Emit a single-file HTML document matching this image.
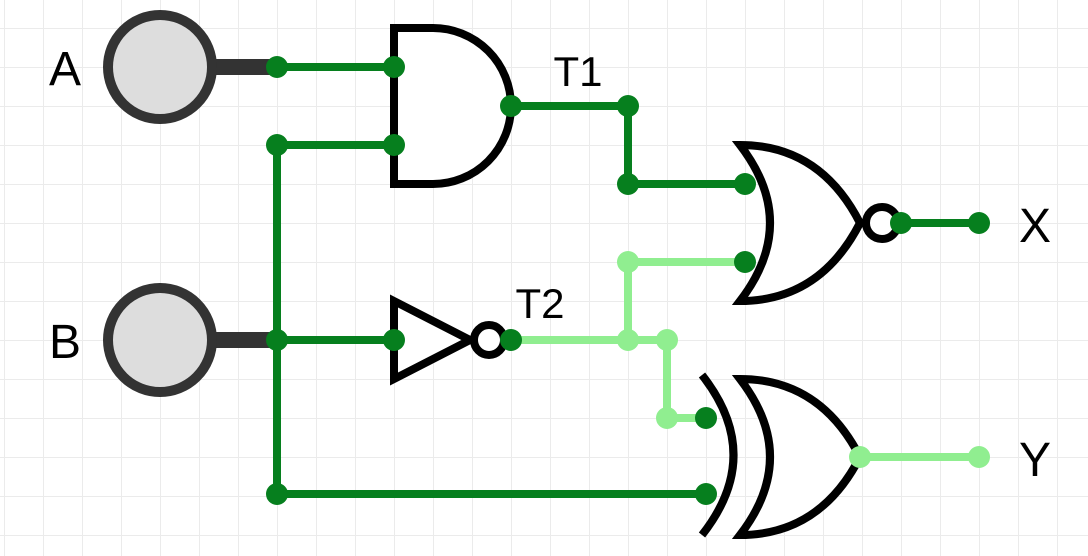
<!DOCTYPE html>
<html><head><meta charset="utf-8"><style>
html,body{margin:0;padding:0;background:#fff;}
svg{display:block;}
text{font-family:"Liberation Sans",sans-serif;fill:#000;}
</style></head><body>
<svg width="1088" height="556" viewBox="0 0 1088 556">
<defs>
<pattern id="g" x="4" y="28" width="39" height="39" patternUnits="userSpaceOnUse">
<path d="M0 0H39M0 0V39" stroke="#ebebeb" stroke-width="2" fill="none"/>
</pattern>
</defs>
<rect width="1088" height="556" fill="url(#g)"/>

<!-- inputs -->
<g>
<rect x="210" y="59" width="67" height="16" fill="#333"/>
<circle cx="160" cy="67" r="52" fill="#ddd" stroke="#333" stroke-width="10"/>
</g>
<g>
<rect x="210" y="332" width="67" height="16" fill="#333"/>
<circle cx="160" cy="340" r="52" fill="#ddd" stroke="#333" stroke-width="10"/>
</g>
<text x="65" y="85" font-size="48" text-anchor="middle">A</text>
<text x="65" y="358" font-size="48" text-anchor="middle">B</text>

<!-- dark wires -->
<g stroke="#067f1e" stroke-width="8" fill="none" stroke-linecap="round">
<path d="M277 67H394"/>
<path d="M277 145V494H706"/>
<path d="M277 145H394"/>
<path d="M277 340H394"/>
<path d="M511 106H628V184H745"/>
<path d="M901 223H979"/>
</g>
<!-- light wires -->
<g stroke="#90ee90" stroke-width="8" fill="none" stroke-linecap="round">
<path d="M511 340H667V418H706"/>
<path d="M628 340V262H745"/>
<path d="M860 457H979"/>
</g>

<!-- AND gate -->
<path d="M394 28H433A78 78 0 0 1 433 184H394Z" fill="#fff" stroke="#000" stroke-width="8"/>
<!-- NOT gate -->
<g>
<path d="M394 301L470 340L394 379Z" fill="#fff" stroke="#000" stroke-width="8"/>
<circle cx="489" cy="340" r="15" fill="#fff" stroke="#000" stroke-width="8"/>
</g>
<!-- NOR gate -->
<g>
<path d="M740 145Q800 223 740 301Q820 301 860 223Q820 145 740 145Z" fill="#fff" stroke="#000" stroke-width="8"/>
<circle cx="882" cy="223" r="16" fill="#fff" stroke="#000" stroke-width="8"/>
</g>
<!-- XOR gate -->
<g>
<path d="M702 375Q765 455 702 535" fill="none" stroke="#000" stroke-width="8"/>
<path d="M740 379Q800 457 740 535Q820 535 860 457Q820 379 740 379Z" fill="#fff" stroke="#000" stroke-width="8"/>
</g>

<!-- dots -->
<g fill="#067f1e">
<circle cx="277" cy="67" r="11"/><circle cx="394" cy="67" r="11"/>
<circle cx="277" cy="145" r="11"/><circle cx="394" cy="145" r="11"/>
<circle cx="277" cy="340" r="11"/><circle cx="394" cy="340" r="11"/>
<circle cx="277" cy="494" r="11"/><circle cx="706" cy="494" r="11"/>
<circle cx="511" cy="106" r="11"/><circle cx="628" cy="106" r="11"/>
<circle cx="628" cy="184" r="11"/><circle cx="745" cy="184" r="11"/>
<circle cx="901" cy="223" r="11"/><circle cx="979" cy="223" r="11"/>
<circle cx="511" cy="340" r="11"/>
<circle cx="706" cy="418" r="11"/><circle cx="745" cy="262" r="11"/>
</g>
<g fill="#90ee90">
<circle cx="628" cy="340" r="11"/><circle cx="667" cy="340" r="11"/>
<circle cx="628" cy="262" r="11"/><circle cx="667" cy="418" r="11"/>
<circle cx="860" cy="457" r="11"/><circle cx="979" cy="457" r="11"/>
</g>

<text x="578" y="86" font-size="42" text-anchor="middle">T1</text>
<text x="540" y="318" font-size="42" text-anchor="middle">T2</text>
<text x="1035" y="242" font-size="48" text-anchor="middle">X</text>
<text x="1035" y="476" font-size="48" text-anchor="middle">Y</text>
</svg>
</body></html>
